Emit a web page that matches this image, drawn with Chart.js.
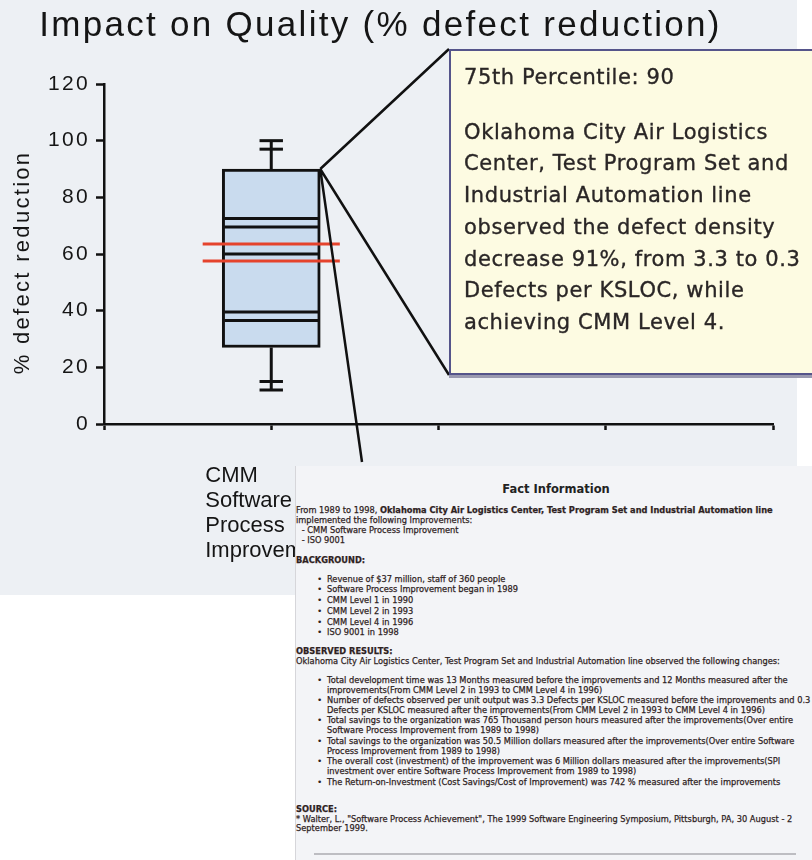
<!DOCTYPE html>
<html>
<head>
<meta charset="utf-8">
<script src="https://cdn.jsdelivr.net/npm/chart.js@4/dist/chart.umd.min.js"></script>
<style>
  body { margin: 0; background: #fff; }
  #wrap { position: relative; width: 812px; height: 860px; overflow: hidden; }
  #myChart { position: absolute; left: 0; top: 0; }
  #callout {
    position: absolute; left: 449px; top: 49px; width: 380px; height: 326px;
    box-sizing: border-box; background: #fdfbe2; border: 2px solid #55548a;
    box-shadow: 0 3px 0 #9a99b0;
    font-family: "DejaVu Sans", sans-serif; font-size: 21px; line-height: 31.7px;
    letter-spacing: 0.6px; -webkit-text-stroke: 0.35px #2a2626;
    color: #2a2626; padding: 11px 0 0 13px; white-space: nowrap;
  }
  #callout p { margin: 0; }
  #callout p + p { margin-top: 23px; }
  #doc {
    position: absolute; left: 295px; top: 466px; width: 517px; height: 394px;
    background: #f3f4f7; border-left: 1px solid #d6d6da;
    font-family: "DejaVu Sans", sans-serif; color: #2e2222;
  }
  .ln { position: absolute; white-space: nowrap; font-size: 9px; line-height: 10px; transform-origin: 0 50%; -webkit-text-stroke: 0.25px #2e2222; }
  .bl { position: absolute; font-size: 9px; line-height: 10px; }
  #factTitle { position: absolute; left: 0; width: 520px; text-align: center; font-weight: bold; font-size: 11.5px; line-height: 14px; color: #222; }
  #docRule { position: absolute; left: 18px; width: 482px; height: 0; border-top: 2px solid #bdbdc2; }
</style>
</head>
<body>
<div id="wrap">
  <canvas id="myChart" width="812" height="860"></canvas>
  <div id="callout">
    <p>75th Percentile: 90</p>
    <p>Oklahoma City Air Logistics<br>Center, Test Program Set and<br>Industrial Automation line<br>observed the defect density<br>decrease 91%, from 3.3 to 0.3<br>Defects per KSLOC, while<br>achieving CMM Level 4.</p>
  </div>
  <div id="doc">
    <div id="factTitle">Fact Information</div>
    <div id="docRule"></div>
  </div>
</div>
<script>
// chart data
const categories = ['CMM Software Process Improvement'];
const xTickValues = [0, 1, 2, 3, 4];
const yTickValues = [0, 20, 40, 60, 80, 100, 120];
const q1 = [27];
const q3 = [90];
const upperCaps = [100, 97];
const lowerCaps = [15, 12];
const blackLines = [72.5, 69.5, 60, 39.5, 36.5];
const redLines = [63.5, 57.5];

// fact sheet text: [center y on page, left x on page, html, bullet]
const docLines = [
  [509.5, 295, 'From 1989 to 1998, <b>Oklahoma City Air Logistics Center, Test Program Set and Industrial Automation line</b>'],
  [520, 295, 'implemented the following Improvements:'],
  [530, 298, '&nbsp;- CMM Software Process Improvement'],
  [540, 298, '&nbsp;- ISO 9001'],
  [559.5, 295, '<b>BACKGROUND:</b>'],
  [578.5, 326, 'Revenue of $37 million, staff of 360 people', true],
  [589, 326, 'Software Process Improvement began in 1989', true],
  [600, 326, 'CMM Level 1 in 1990', true],
  [610.5, 326, 'CMM Level 2 in 1993', true],
  [621.5, 326, 'CMM Level 4 in 1996', true],
  [631.5, 326, 'ISO 9001 in 1998', true],
  [651, 295, '<b>OBSERVED RESULTS:</b>'],
  [661, 295, 'Oklahoma City Air Logistics Center, Test Program Set and Industrial Automation line observed the following changes:'],
  [679.5, 326, 'Total development time was 13 Months measured before the improvements and 12 Months measured after the', true],
  [689.5, 326, 'improvements(From CMM Level 2 in 1993 to CMM Level 4 in 1996)'],
  [699.5, 326, 'Number of defects observed per unit output was 3.3 Defects per KSLOC measured before the improvements and 0.3', true],
  [709.5, 326, 'Defects per KSLOC measured after the improvements(From CMM Level 2 in 1993 to CMM Level 4 in 1996)'],
  [720, 326, 'Total savings to the organization was 765 Thousand person hours measured after the improvements(Over entire', true],
  [730, 326, 'Software Process Improvement from 1989 to 1998)'],
  [740.5, 326, 'Total savings to the organization was 50.5 Million dollars measured after the improvements(Over entire Software', true],
  [750.5, 326, 'Process Improvement from 1989 to 1998)'],
  [761, 326, 'The overall cost (investment) of the improvement was 6 Million dollars measured after the improvements(SPI', true],
  [771, 326, 'investment over entire Software Process Improvement from 1989 to 1998)'],
  [781.5, 326, 'The Return-on-Investment (Cost Savings/Cost of Improvement) was 742 % measured after the improvements', true],
  [809, 295, '<b>SOURCE:</b>'],
  [818.5, 295, '* Walter, L., "Software Process Achievement", The 1999 Software Engineering Symposium, Pittsburgh, PA, 30 August - 2'],
  [828, 295, 'September 1999.']
];

const doc = document.getElementById('doc');
const DOC_LEFT = 295, DOC_TOP = 466;
document.getElementById('factTitle').style.top = (489 - DOC_TOP - 7) + 'px';
document.getElementById('docRule').style.top = (853 - DOC_TOP) + 'px';
const lineEls = [];
let refEl = null;
docLines.forEach(([y, x, html, bullet]) => {
  const el = document.createElement('div');
  el.className = 'ln';
  el.style.left = (x - DOC_LEFT) + 'px';
  el.style.top = (y - DOC_TOP - 5) + 'px';
  el.innerHTML = html;
  doc.appendChild(el);
  lineEls.push(el);
  if (html.startsWith('Oklahoma City')) refEl = el;
  if (bullet) {
    const b = document.createElement('div');
    b.className = 'bl';
    b.style.left = (316 - DOC_LEFT) + 'px';
    b.style.top = (y - DOC_TOP - 5) + 'px';
    b.textContent = '\u2022';
    doc.appendChild(b);
  }
});
// squeeze lines so the long reference line spans the same width as the picture
const squeeze = 484 / refEl.scrollWidth;
lineEls.forEach(el => { el.style.transform = 'scaleX(' + squeeze + ')'; });

const BOX_HALF = 0.29;   // x units
const CAP_HALF = 0.07;
const RED_HALF = 0.41;

const boxPlugin = {
  id: 'boxPlugin',
  beforeDraw(chart) {
    const ctx = chart.ctx;
    ctx.save();
    ctx.fillStyle = '#edf0f4';
    ctx.fillRect(0, 0, 797, 595);
    ctx.restore();
    ctx.letterSpacing = '2.3px';
  },
  afterDatasetsDraw(chart) {
    const ctx = chart.ctx;
    const x = chart.scales.x, y = chart.scales.y;
    ctx.save();
    ctx.lineWidth = 3;
    categories.forEach((c, i) => {
      const cx = x.getPixelForValue(i + 1);
      const hline = (v, half, color) => {
        ctx.strokeStyle = color;
        ctx.beginPath();
        ctx.moveTo(x.getPixelForValue(i + 1 - half), y.getPixelForValue(v));
        ctx.lineTo(x.getPixelForValue(i + 1 + half), y.getPixelForValue(v));
        ctx.stroke();
      };
      // whiskers
      ctx.strokeStyle = '#111';
      ctx.beginPath();
      ctx.moveTo(cx, y.getPixelForValue(q3[i]));
      ctx.lineTo(cx, y.getPixelForValue(Math.max(...upperCaps)));
      ctx.moveTo(cx, y.getPixelForValue(q1[i]));
      ctx.lineTo(cx, y.getPixelForValue(Math.min(...lowerCaps)));
      ctx.stroke();
      upperCaps.concat(lowerCaps).forEach(v => hline(v, CAP_HALF, '#111'));
      blackLines.forEach(v => hline(v, BOX_HALF - 0.01, '#111'));
      redLines.forEach(v => hline(v, RED_HALF, '#e5432c'));
    });
    ctx.restore();
    ctx.letterSpacing = '0px';
  },
  afterDraw(chart) {
    const ctx = chart.ctx;
    const bar = chart.getDatasetMeta(0).data[0];
    const sx = bar.x + bar.width / 2, sy = bar.y;
    const call = document.getElementById('callout');
    const cl = call.offsetLeft, ct = call.offsetTop, cb = ct + call.offsetHeight;
    ctx.save();
    ctx.strokeStyle = '#111';
    ctx.lineWidth = 2.5;
    ctx.beginPath();
    ctx.moveTo(sx, sy); ctx.lineTo(cl, ct);
    ctx.moveTo(sx, sy); ctx.lineTo(cl, cb);
    ctx.moveTo(sx, sy); ctx.lineTo(DOC_LEFT + 67, DOC_TOP - 4);
    ctx.stroke();
    ctx.restore();
  }
};

const axisFont = { family: 'Liberation Sans', size: 21 };

new Chart(document.getElementById('myChart'), {
  type: 'bar',
  data: {
    datasets: [{
      label: '% defect reduction',
      data: categories.map((c, i) => ({ x: i + 1, y: [q1[i], q3[i]] })),
      backgroundColor: '#c9dbee',
      borderColor: '#111',
      borderWidth: 3,
      borderSkipped: false,
      barThickness: 98
    }]
  },
  options: {
    responsive: false,
    animation: false,
    layout: { padding: { left: 0, right: 39, top: 0, bottom: 0 } },
    plugins: {
      legend: { display: false },
      tooltip: { enabled: false },
      title: {
        display: true,
        text: 'Impact on Quality (% defect reduction) ',
        color: '#151515',
        font: { family: 'Liberation Sans', size: 35, weight: 'normal' },
        padding: { top: 5, bottom: 37 }
      }
    },
    scales: {
      x: {
        type: 'linear', min: 0, max: 4, offset: false,
        afterBuildTicks(scale) { scale.ticks = xTickValues.map(v => ({ value: v })); },
        afterFit(scale) { scale.height = 436; },
        ticks: {
          z: 1,
          callback: v => (v >= 1 && v <= categories.length) ? categories[v - 1].split(' ') : '',
          font: { family: 'Liberation Sans', size: 22, lineHeight: 1.14 },
          color: '#151515', align: 'start', labelOffset: -66, padding: 33,
          maxRotation: 0, autoSkip: false
        },
        grid: { drawOnChartArea: false, offset: false, tickLength: 6, tickColor: '#111', tickWidth: 2.5 },
        border: { color: '#111', width: 2.5 }
      },
      y: {
        min: 0, max: 120,
        afterBuildTicks(scale) { scale.ticks = yTickValues.map(v => ({ value: v })); },
        afterFit(scale) { scale.width = 104; },
        ticks: { font: axisFont, color: '#151515', padding: 6 },
        grid: { drawOnChartArea: false, tickLength: 8, tickColor: '#111', tickWidth: 2.5 },
        border: { color: '#111', width: 2.5 },
        title: {
          display: true, text: '% defect reduction  ', color: '#151515',
          font: { family: 'Liberation Sans', size: 22 },
          padding: { top: 10, bottom: 0 }
        }
      }
    }
  },
  plugins: [boxPlugin]
});
</script>
</body>
</html>
